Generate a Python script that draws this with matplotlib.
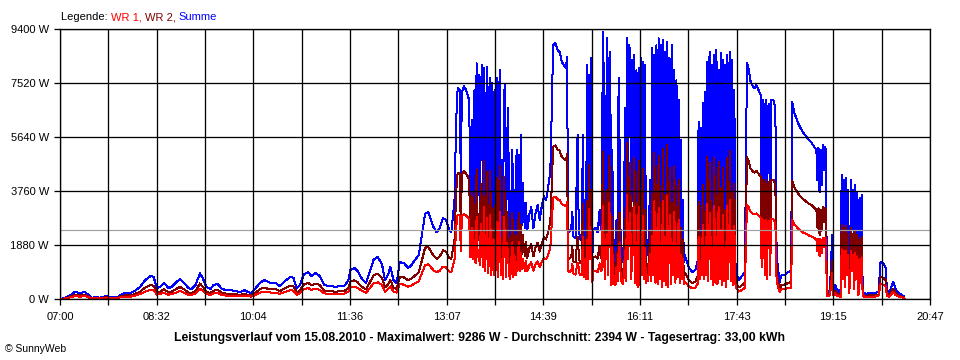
import matplotlib
matplotlib.use("Agg")
import matplotlib.pyplot as plt

# ---- data: minutes after 07:00, power in W ----
minutes = [
    0, 5, 10, 14, 19, 24, 27, 30, 34, 38, 43, 48, 52, 55, 57,
    62, 67, 71, 76, 81, 86, 89, 92, 95, 99, 103, 106, 110, 114, 118,
    122, 125, 129, 133, 136, 139, 143, 146, 150, 154, 158, 162, 167, 171, 175,
    179, 182, 186, 190, 194, 198, 201, 205, 209, 214, 219, 222, 225, 228, 232,
    236, 239, 243, 247, 251, 255, 258, 262, 266, 270, 274, 276, 280, 283, 287,
    291, 295, 298, 302, 306, 309, 312, 314, 317, 320, 323, 327, 331, 334, 338,
    341, 344, 347, 350, 352, 355, 358, 361, 364, 367, 370, 372, 375,
    376, 377, 378, 380, 381, 382, 384, 386, 388, 389, 390,
    391, 392, 393, 394, 395, 396, 397, 398, 399, 400, 401, 402, 403, 404, 405,
    406, 407, 408, 409, 410, 411, 412, 413, 414, 415, 416, 417, 418, 419, 420,
    421, 422, 423, 424, 425, 426, 427, 428, 429, 430, 431, 432, 433, 434, 435,
    436, 437, 438, 439, 440, 441, 442, 443, 444, 445, 446,
    448, 450, 452, 454, 456, 458, 460, 462, 464, 465, 466, 467, 468, 469, 471,
    473, 475, 477, 479, 481, 482, 483, 484, 486, 487, 488, 490, 492, 493, 494,
    496, 497, 498, 499, 500, 501, 502, 503, 504, 505, 506, 507, 509, 511, 513,
    514, 515, 516, 517, 518, 519, 520, 521, 522, 523, 524, 525, 526, 527, 528,
    529, 530, 531, 532, 533, 534, 535, 536, 537, 538, 539, 540, 541, 542, 543,
    544, 545, 546, 547, 548, 549, 550, 551, 552, 553, 554, 555, 556, 557, 558,
    559, 560, 561, 562, 563, 564, 565, 566, 567, 568, 569, 570, 571, 572, 573,
    574, 575, 576, 577, 578, 579, 580, 581, 582, 583, 584, 585, 586, 587, 588,
    589, 590, 591, 592, 593, 594, 596, 598, 601, 604, 606,
    607, 608, 609, 610, 611, 612, 613, 614, 615, 616, 617, 618, 619, 620, 621,
    622, 623, 624, 625, 626, 627, 628, 629, 630, 631, 632, 633, 634, 635, 636,
    637, 638, 639, 640, 641, 642, 643, 645, 647, 649, 651,
    653, 655, 656, 658, 660, 662, 664, 666, 667, 668, 669, 670, 671, 672, 673,
    674, 675, 676, 678, 680, 681, 682, 684, 686, 689, 692, 693, 695,
    696, 698, 700, 702, 704, 706, 709, 712, 714, 717, 719, 720, 721, 722, 723,
    724, 725, 726, 727, 728, 729, 731, 732, 734, 735, 737, 739, 741, 742,
    743, 744, 745, 746, 747, 748, 749, 750, 751, 752, 753, 754, 755, 756, 757,
    758, 759, 760, 761, 762, 763, 766, 769, 774, 778, 780, 783, 785, 786, 788,
    790, 792, 794, 796, 799, 802, 803,
]

summe = [
    0, 40, 140, 240, 210, 240, 140, 40, 70, 40, 100, 70, 70, 40, 140,
    210, 210, 280, 420, 660, 800, 770, 380, 420, 560, 380, 420, 560, 700, 560,
    380, 350, 490, 900, 700, 420, 350, 490, 520, 350, 310, 310, 280, 240, 310,
    240, 210, 380, 560, 660, 590, 560, 560, 450, 630, 770, 730, 380, 490, 870,
    940, 800, 900, 800, 490, 450, 450, 420, 450, 450, 630, 1010, 1080, 970, 700,
    560, 1010, 1360, 1460, 1220, 660, 870, 1110, 660, 560, 1290, 1250, 1080, 1180, 1390,
    1530, 2230, 2960, 3030, 2820, 2510, 2330, 2470, 2820, 2750, 2400, 2330, 3450,
    5190, 6580, 7340, 7270, 4140, 7200, 7410, 7270, 7060, 6860, 3620,
    3790, 6230, 3450, 7270, 3100, 8210, 3620, 7800, 2920, 6930, 8140, 2750, 8040, 2400, 6580,
    8070, 2230, 7270, 7690, 2050, 7520, 5190, 2050, 7450, 7690, 1880, 6230, 7970, 2050, 4840,
    1710, 7100, 7450, 1880, 5530, 6650, 2050, 1710, 3450, 5190, 1880, 3790, 2050, 5190, 2470,
    5010, 2400, 5710, 2580, 4040, 2920, 2470, 3340, 2400, 2580, 2920,
    3200, 2470, 2990, 3270, 2750, 3240, 3580, 3450, 3860, 4210, 4320, 5810, 7620, 8840, 8910,
    8670, 8600, 8250, 8140, 8040, 8420, 2470, 2330, 2470, 3030, 2190, 2120, 5710, 2750, 2120,
    2050, 5710, 1880, 3450, 1710, 8140, 1710, 7800, 3450, 8390, 1430, 2400, 2470, 2330, 3100,
    2400, 2580, 9286, 7620, 1710, 5190, 9080, 2050, 8320, 8600, 1180, 5190, 1290, 2050, 1180,
    2750, 1530, 7690, 5190, 1710, 1430, 1290, 2050, 6650, 1530, 9080, 3450, 8840, 8600, 1710,
    8320, 3790, 8490, 1360, 7970, 1010, 8040, 1180, 8390, 2050, 8250, 1710, 8140, 1360, 2050,
    1530, 2750, 4140, 1530, 8740, 2050, 8490, 1430, 8840, 1290, 9080, 1710, 8840, 1010, 9010,
    1530, 8600, 1180, 8940, 1080, 8390, 8320, 1290, 8840, 2050, 7970, 1430, 7620, 1880, 6930,
    1360, 5530, 1710, 3450, 1290, 1530, 1290, 1080, 940, 1010, 1290,
    6160, 1710, 5950, 2050, 6820, 1710, 7200, 2050, 8250, 1530, 8320, 8600, 1710, 8140, 1180,
    8490, 1430, 8670, 1290, 7970, 1710, 8560, 1180, 8320, 1530, 8140, 1080, 8490, 1710, 7970,
    8600, 1530, 8320, 1180, 7270, 1290, 940, 660, 730, 840, 940,
    8210, 7970, 7620, 7450, 7340, 7450, 7270, 7100, 2750, 6930, 6750, 2050, 6930, 1710, 6650,
    6790, 2050, 6930, 6930, 6650, 2050, 1250, 590, 840, 840, 940, 940, 1010,
    6860, 6470, 6300, 6090, 5950, 5810, 5670, 5530, 5460, 5290, 5190, 4140, 5260, 3720, 5190,
    3970, 5360, 4490, 5290, 5190, 310, 240, 380, 2230, 310, 490, 240, 310, 140,
    4320, 1710, 4140, 1010, 4210, 2050, 3790, 490, 1360, 4140, 2400, 3790, 840, 3970, 1710,
    3720, 310, 3520, 1360, 3620, 240, 170, 210, 210, 240, 1290, 1220, 1080, 310, 210,
    380, 590, 380, 240, 170, 100, 0,
]

wr2 = [
    0, 20, 80, 140, 130, 140, 80, 20, 40, 20, 60, 40, 40, 20, 80,
    130, 130, 170, 250, 400, 480, 460, 230, 250, 340, 230, 250, 340, 420, 340,
    230, 210, 290, 540, 420, 250, 210, 290, 310, 210, 190, 190, 170, 140, 190,
    140, 130, 230, 340, 400, 350, 340, 340, 270, 380, 460, 440, 230, 290, 520,
    560, 480, 540, 480, 290, 270, 270, 250, 270, 270, 380, 610, 650, 580, 420,
    340, 610, 820, 880, 730, 400, 520, 670, 400, 340, 770, 750, 650, 710, 830,
    920, 1340, 1780, 1820, 1690, 1510, 1400, 1480, 1690, 1650, 1440, 1400, 2070,
    3110, 3950, 4400, 4360, 2480, 4320, 4450, 4360, 4240, 4120, 2170,
    2270, 3740, 2070, 3270, 1860, 4520, 2170, 2960, 1750, 4020, 3420, 1650, 4820, 1440, 2960,
    4440, 1340, 2760, 4460, 1230, 3160, 3110, 1230, 3350, 4230, 1130, 2370, 4620, 1230, 2030,
    1030, 4260, 3350, 1130, 3040, 2530, 1230, 1030, 2070, 3010, 1130, 2270, 1230, 2180, 1480,
    3010, 1440, 2570, 1550, 2220, 1750, 1480, 2000, 1440, 1550, 1750,
    1920, 1480, 1790, 1960, 1650, 1940, 2150, 2070, 2320, 2530, 2590, 3490, 4570, 5300, 5350,
    5200, 5160, 4950, 4880, 4820, 5050, 1480, 1400, 1480, 1820, 1310, 1270, 2170, 1650, 1270,
    1230, 3310, 1130, 2070, 1030, 3420, 1030, 4680, 2070, 3780, 860, 1440, 1480, 1400, 1860,
    1440, 1550, 5110, 2900, 1030, 3010, 3810, 1230, 4990, 3870, 710, 2850, 770, 1230, 710,
    1650, 920, 2920, 3010, 1030, 860, 770, 1230, 2790, 920, 5450, 2070, 3980, 4730, 1030,
    3160, 2270, 4920, 820, 3350, 610, 4820, 710, 3780, 1230, 4540, 1030, 3090, 820, 1230,
    920, 1650, 2400, 920, 3670, 1230, 5090, 860, 3980, 770, 4990, 1030, 3360, 610, 5230,
    920, 3610, 710, 5360, 650, 3780, 4580, 770, 3360, 1230, 4620, 860, 3200, 1130, 4160,
    820, 2490, 1030, 2070, 770, 920, 770, 650, 560, 610, 770,
    3390, 1030, 2260, 1230, 3960, 1030, 3020, 1230, 4950, 920, 3740, 4730, 1030, 3090, 710,
    4920, 860, 3640, 770, 4780, 1030, 3850, 710, 4580, 920, 3090, 650, 4920, 1030, 3350,
    5160, 920, 3740, 710, 4000, 770, 560, 400, 440, 500, 560,
    4930, 4780, 4570, 4470, 4400, 4470, 4360, 4260, 1650, 4160, 4050, 1230, 4160, 1030, 3990,
    4070, 1230, 4160, 4160, 3990, 1230, 750, 350, 500, 500, 560, 560, 610,
    4120, 3880, 3780, 3650, 3570, 3490, 3400, 3320, 3280, 3170, 3110, 2480, 3160, 2230, 3110,
    2380, 3220, 2690, 3170, 3110, 190, 140, 230, 1340, 190, 290, 140, 190, 80,
    2590, 1030, 2480, 610, 2530, 1230, 2270, 290, 820, 2480, 1440, 2270, 500, 2380, 1030,
    2230, 190, 2110, 820, 2170, 140, 100, 130, 130, 140, 770, 730, 650, 190, 130,
    230, 350, 230, 140, 100, 60, 0,
]

wr1 = [
    0, 20, 60, 100, 80, 100, 60, 20, 30, 20, 40, 30, 30, 20, 60,
    80, 80, 110, 170, 260, 320, 310, 150, 170, 220, 150, 170, 220, 280, 220,
    150, 140, 200, 360, 280, 170, 140, 200, 210, 140, 120, 120, 110, 100, 120,
    100, 80, 150, 220, 260, 240, 220, 220, 180, 250, 310, 290, 150, 200, 350,
    380, 320, 360, 320, 200, 180, 180, 170, 180, 180, 250, 400, 430, 390, 280,
    220, 400, 540, 580, 490, 260, 350, 440, 260, 220, 520, 500, 430, 470, 560,
    610, 890, 1180, 1210, 1130, 1000, 930, 990, 1130, 1100, 960, 930, 1380,
    2080, 2630, 2940, 2910, 1660, 2880, 2960, 2910, 2820, 2740, 1450,
    1520, 2490, 1380, 2040, 1240, 2870, 1450, 1720, 1170, 2630, 2040, 1100, 3220, 960, 1840,
    2820, 890, 1600, 2920, 820, 1880, 2080, 820, 2090, 2690, 750, 1370, 3030, 820, 1210,
    680, 2840, 2090, 750, 1940, 1460, 820, 680, 1380, 1970, 750, 1520, 820, 1300, 990,
    2000, 960, 1600, 1030, 1410, 1170, 990, 1340, 960, 1030, 1170,
    1280, 990, 1200, 1310, 1100, 1300, 1430, 1380, 1540, 1680, 1730, 2320, 3050, 3540, 3560,
    3470, 3440, 3300, 3260, 3220, 3370, 990, 930, 990, 1210, 880, 850, 1260, 1100, 850,
    820, 2170, 750, 1380, 680, 2040, 680, 3120, 1380, 2350, 570, 960, 990, 930, 1240,
    960, 1030, 3250, 1680, 680, 1970, 2270, 820, 3330, 2410, 470, 1820, 520, 820, 470,
    1100, 610, 1690, 1970, 680, 570, 520, 820, 1660, 610, 3630, 1380, 2480, 3010, 680,
    1830, 1520, 3230, 540, 1990, 400, 3220, 470, 2350, 820, 2890, 680, 1790, 540, 820,
    610, 1100, 1570, 610, 2190, 820, 3400, 570, 2480, 520, 3180, 680, 1940, 400, 3420,
    610, 2150, 470, 3580, 430, 2350, 2910, 520, 1940, 820, 3030, 570, 1910, 750, 2770,
    540, 1550, 680, 1380, 520, 610, 520, 430, 380, 400, 520,
    2160, 680, 1310, 820, 2590, 680, 1800, 820, 3300, 610, 2330, 3010, 680, 1790, 470,
    3230, 570, 2170, 520, 3190, 680, 2400, 470, 2910, 610, 1790, 430, 3230, 680, 1990,
    3440, 610, 2330, 470, 2540, 520, 380, 260, 290, 340, 380,
    3280, 3190, 3050, 2980, 2940, 2980, 2910, 2840, 1100, 2770, 2700, 820, 2770, 680, 2660,
    2720, 820, 2770, 2770, 2660, 820, 500, 240, 340, 340, 380, 380, 400,
    2740, 2590, 2520, 2440, 2380, 2320, 2270, 2210, 2180, 2120, 2080, 1660, 2100, 1490, 2080,
    1590, 2140, 1800, 2120, 2080, 120, 100, 150, 890, 120, 200, 100, 120, 60,
    1730, 680, 1660, 400, 1680, 820, 1520, 200, 540, 1660, 960, 1520, 340, 1590, 680,
    1490, 120, 1410, 540, 1450, 100, 70, 80, 80, 100, 520, 490, 430, 120, 80,
    150, 240, 150, 100, 70, 40, 0,
]

average_w = 2394
y_ticks = [0, 1880, 3760, 5640, 7520, 9400]
x_labels = ["07:00", "08:32", "10:04", "11:36", "13:07", "14:39",
            "16:11", "17:43", "19:15", "20:47"]
day_span_min = 827

title = ("Leistungsverlauf vom 15.08.2010 - Maximalwert: 9286 W - "
         "Durchschnitt: 2394 W - Tagesertrag: 33,00 kWh")

assert len(minutes) == len(summe) == len(wr2) == len(wr1), (
    len(minutes), len(summe), len(wr2), len(wr1))

BLUE = "#0000ff"
DARKRED = "#800000"
RED = "#ff0000"
PX = 0.72  # one pixel in points at 100 dpi

plt.rcParams["font.family"] = ["Liberation Sans", "DejaVu Sans"]

fig = plt.figure(figsize=(9.6, 3.6), dpi=100)
fig.patch.set_facecolor("white")
ax = fig.add_axes([60 / 960, 61 / 360, 870 / 960, 270 / 360])

ax.plot(minutes, summe, color=BLUE, lw=PX, antialiased=False, zorder=2.0)
ax.plot(minutes, wr2, color=DARKRED, lw=PX, antialiased=False, zorder=2.1)
ax.plot(minutes, wr1, color=RED, lw=PX, antialiased=False, zorder=2.2)
ax.axhline(average_w, color="#a0a0a0", lw=PX * 1.2, zorder=2.3)

ax.set_xlim(0, day_span_min)
ax.set_ylim(0, y_ticks[-1])

n_div = 2 * (len(x_labels) - 1)
xpos = [day_span_min * i / n_div for i in range(n_div + 1)]
xlabs = [x_labels[i // 2] if i % 2 == 0 else "" for i in range(n_div + 1)]
ax.set_xticks(xpos, xlabs)
ax.set_yticks(y_ticks, [f"{v} W" for v in y_ticks])

ax.set_axisbelow(False)
ax.grid(True, color="black", lw=PX * 1.3, zorder=2.5)
for s in ax.spines.values():
    s.set_color("black")
    s.set_linewidth(PX * 1.3)
ax.tick_params(direction="out", length=4, width=PX * 1.3, color="black",
               labelsize=8, pad=4)
ax.tick_params(axis="x", pad=5)

fig.text(480 / 960, (360 - 338) / 360, title, ha="center", va="center",
         fontsize=8.8, fontweight="bold")
fig.text(5 / 960, (360 - 349) / 360, "\u00a9 SunnyWeb", ha="left",
         va="center", fontsize=7.5)

t0 = fig.text(61 / 960, (360 - 17) / 360, "Legende: ", ha="left",
              va="center", fontsize=8, color="black")
t1 = ax.annotate("WR 1, ", xy=(1, 0), xycoords=t0, va="bottom", ha="left",
                 fontsize=8, color=RED, annotation_clip=False)
t2 = ax.annotate("WR 2, ", xy=(1, 0), xycoords=t1, va="bottom", ha="left",
                 fontsize=8, color=DARKRED, annotation_clip=False)
ax.annotate("Summe", xy=(1, 0), xycoords=t2, va="bottom", ha="left",
            fontsize=8, color=BLUE, annotation_clip=False)

fig.savefig("out.png", dpi=100)
